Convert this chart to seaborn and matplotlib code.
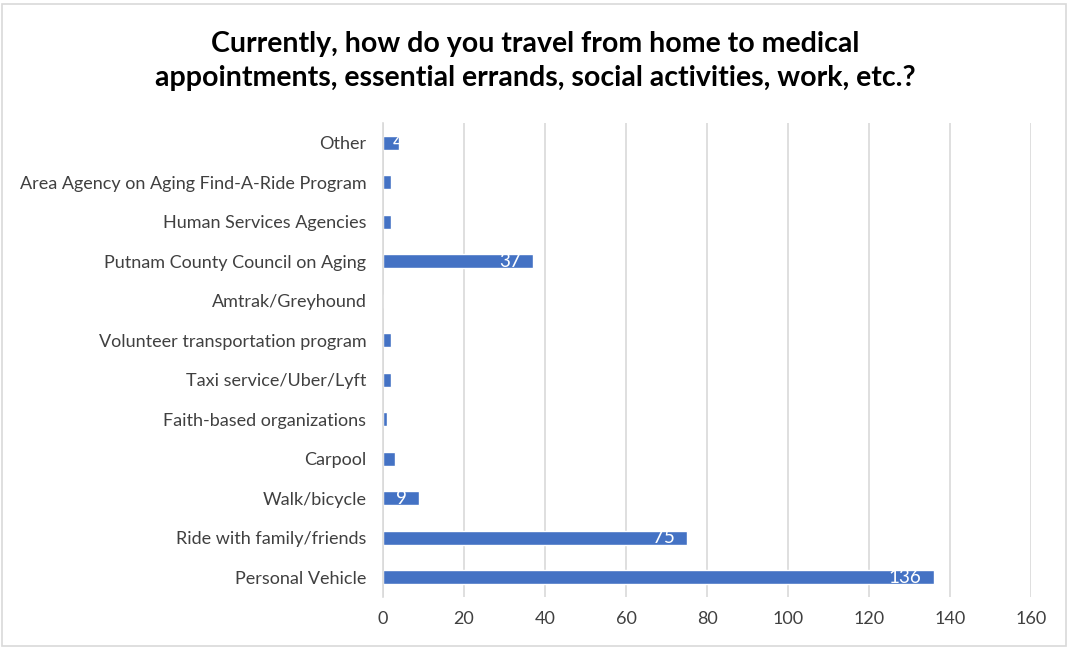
import matplotlib
matplotlib.use("Agg")
import matplotlib.pyplot as plt
import seaborn as sns
import pandas as pd
from matplotlib.patches import Rectangle

categories = [
    "Other",
    "Area Agency on Aging Find-A-Ride Program",
    "Human Services Agencies",
    "Putnam County Council on Aging",
    "Amtrak/Greyhound",
    "Volunteer transportation program",
    "Taxi service/Uber/Lyft",
    "Faith-based organizations",
    "Carpool",
    "Walk/bicycle",
    "Ride with family/friends",
    "Personal Vehicle",
]
values = [4, 2, 2, 37, 0, 2, 2, 1, 3, 9, 75, 136]
shown_labels = ["4", "", "", "37", "", "", "", "", "", "9", "75", "136"]
xticks = [0, 20, 40, 60, 80, 100, 120, 140, 160]
title = "Currently, how do you travel from home to medical\nappointments, essential errands, social activities, work, etc.?"

sns.set_theme(style="white")
plt.rcParams["font.family"] = ["Lato", "DejaVu Sans"]

df = pd.DataFrame({"cat": categories, "val": values})

fig = plt.figure(figsize=(10.7, 6.48), dpi=100)
ax = fig.add_axes([383 / 1070, 1 - 597 / 648, (1031 - 383) / 1070, (597 - 123) / 648])

sns.barplot(data=df, x="val", y="cat", color="#4472C4", saturation=1, width=0.36, ax=ax, orient="h")

ax.set_xlim(0, 160)
ax.set_ylim(11.5, -0.5)
ax.set_xticks(xticks)
ax.set_xticklabels([str(t) for t in xticks], fontsize=13, color="#404040")
ax.tick_params(axis="y", labelsize=13, labelcolor="#404040", length=0, pad=12)
ax.tick_params(axis="x", length=0, pad=10)
ax.set_xlabel("")
ax.set_ylabel("")
ax.xaxis.grid(True, color="#d9d9d9", linewidth=1.2)
ax.set_axisbelow(True)
for s in ["top", "right", "bottom"]:
    ax.spines[s].set_visible(False)
ax.spines["left"].set_color("#d9d9d9")
ax.spines["left"].set_linewidth(1.2)

for i, (v, lab) in enumerate(zip(values, shown_labels)):
    if lab:
        if v < 8:
            ax.text(v - 0.2, i, lab, ha="center", va="center", color="white", fontsize=13.5, clip_on=True)
        else:
            ax.text(v - 3.0, i, lab, ha="right", va="center", color="white", fontsize=13.5)

fig.text(0.5, 1 - 61 / 648, title, ha="center", va="center", fontsize=20.5, fontweight="bold",
         color="black", linespacing=1.38)

fig.patches.append(Rectangle((2 / 1070, 2 / 648), 1064 / 1070, 642 / 648, transform=fig.transFigure,
                             fill=False, edgecolor="#d9d9d9", linewidth=1.2))

fig.savefig("out.png", dpi=100, facecolor="white")
